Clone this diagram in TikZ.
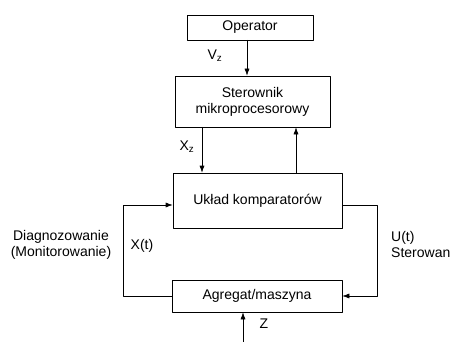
\documentclass[tikz,border=0pt]{standalone}
\usepackage{fontspec}
\setmainfont{Liberation Sans}
\usetikzlibrary{arrows.meta}

\begin{document}
\begin{tikzpicture}[
    x=1pt, y=-1pt,
    line cap=round,
    line join=round,
    blok/.style={draw, line width=0.6pt, minimum height=0, inner sep=0, font=\fontsize{14}{16}\selectfont, align=center},
    strz/.style={line width=0.6pt, -{Latex[length=7pt, width=5pt]}},
    opis/.style={font=\fontsize{14}{16}\selectfont, align=left, inner sep=0}
]

\useasboundingbox (0,0) rectangle (452,342);

% Bloki
\node[blok, minimum width=126pt, minimum height=25pt] (oper) at (250,27.5) {Operator};
\node[blok, minimum width=155pt, minimum height=51pt] (ster) at (252.5,101.5) {Sterownik\\mikroprocesorowy};
\node[blok, minimum width=169pt, minimum height=55pt] (komp) at (257.5,200.5) {Układ komparatorów};
\node[blok, minimum width=170pt, minimum height=32pt] (agr) at (257,296) {Agregat/maszyna};

% Punkty pomocnicze
\coordinate (lewy) at (123,205);
\coordinate (prawy) at (377,205);
\coordinate (zet) at (243,342);

% Polaczenia
\draw[strz] (oper.south -| 247,0) -- (ster.north -| 247,0);
\draw[strz] (ster.south -| 202,0) -- (komp.north -| 202,0);
\draw[strz] (komp.north -| 296,0) -- (ster.south -| 296,0);
\draw[strz] (agr.west) -- (agr.west -| lewy) -- (lewy) -- (komp.west |- lewy);
\draw[strz] (komp.east |- prawy) -- (prawy) -- (prawy |- agr.east) -- (agr.east);
\draw[strz] (zet) -- (agr.south -| zet);

% Etykiety
\node[opis] (vz) at (215,56) {V\textsubscript{z}};
\node[opis] (xz) at (187,147) {X\textsubscript{z}};
\node[opis, align=center] (diag) at (61,245) {Diagnozowanie\\(Monitorowanie)};
\node[opis] (xt) at (142,246) {X(t)};
\node[opis, anchor=west] (ut) at (391,244) {U(t)\\Sterowan};
\node[opis] (z) at (264,324) {Z};

\end{tikzpicture}
\end{document}
